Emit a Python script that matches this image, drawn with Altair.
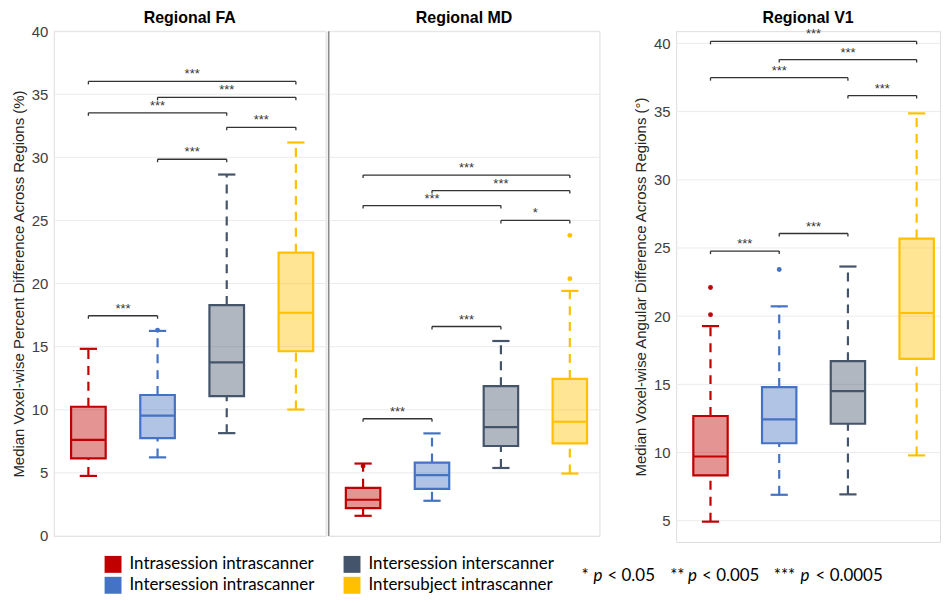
import altair as alt
import pandas as pd

# ---------------- data ----------------
groups = ["Intrasession intrascanner", "Intersession intrascanner",
          "Intersession interscanner", "Intersubject intrascanner"]
colors = ["#C00000", "#4472C4", "#44546A", "#FFC000"]
positions = [1, 2, 3, 4]

# Regional FA
fa_low = [4.76, 6.23, 8.15, 10.02]
fa_q1 = [6.15, 7.75, 11.09, 14.64]
fa_med = [7.62, 9.54, 13.76, 17.69]
fa_q3 = [10.24, 11.17, 18.30, 22.45]
fa_high = [14.83, 16.25, 28.64, 31.18]
fa_out_group = [2]
fa_out_value = [16.3]
fa_sig_from = [1, 2, 3, 1, 2, 1]
fa_sig_to = [2, 3, 4, 3, 4, 4]
fa_sig_y = [17.45, 29.85, 32.38, 33.53, 34.76, 36.02]
fa_sig_text = ["***", "***", "***", "***", "***", "***"]

# Regional MD
md_low = [1.60, 2.79, 5.39, 4.95]
md_q1 = [2.21, 3.74, 7.13, 7.34]
md_med = [2.87, 4.82, 8.63, 9.05]
md_q3 = [3.82, 5.82, 11.87, 12.45]
md_high = [5.74, 8.13, 15.45, 19.42]
md_out_group = [1, 4, 4]
md_out_value = [5.55, 23.82, 20.39]
md_sig_from = [1, 2, 3, 1, 2, 1]
md_sig_to = [2, 3, 4, 3, 4, 4]
md_sig_y = [9.29, 16.60, 25.00, 26.18, 27.37, 28.60]
md_sig_text = ["***", "***", "*", "***", "***", "***"]

# Regional V1
v1_low = [4.93, 6.90, 6.93, 9.79]
v1_q1 = [8.33, 10.68, 12.11, 16.87]
v1_med = [9.71, 12.43, 14.50, 20.23]
v1_q3 = [12.68, 14.80, 16.70, 25.69]
v1_high = [19.27, 20.72, 23.64, 34.87]
v1_out_group = [1, 1, 2]
v1_out_value = [22.10, 20.11, 23.42]
v1_sig_from = [1, 2, 3, 1, 2, 1]
v1_sig_to = [2, 3, 4, 3, 4, 4]
v1_sig_y = [24.77, 26.06, 36.18, 37.49, 38.82, 40.15]
v1_sig_text = ["***", "***", "***", "***", "***", "***"]

fa_ticks = [0, 5, 10, 15, 20, 25, 30, 35, 40]
v1_ticks = [5, 10, 15, 20, 25, 30, 35, 40]

key_stars = ["*", "**", "***"]
key_thresholds = ["< 0.05", "< 0.005", "< 0.0005"]

FONT = "Liberation Sans"
LEG_FONT = "Lato"
LW = 2.2

color_scale = alt.Scale(domain=groups, range=colors)


def panel(title, low, q1, med, q3, high, og, ov, sf, st, sy, stxt,
          ydom, yticks, ytitle, show_labels, xdom, w, h, divider=False):
    box = pd.DataFrame({"group": groups, "pos": positions, "low": low,
                        "q1": q1, "med": med, "q3": q3, "high": high})
    outl = pd.DataFrame({"group": [groups[g - 1] for g in og],
                         "pos": og, "value": ov})
    sig = pd.DataFrame({"a": sf, "b": st, "y": sy, "label": stxt})
    grid = pd.DataFrame({"t": yticks})

    xs = alt.Scale(domain=xdom, nice=False, zero=False)
    ys = alt.Scale(domain=ydom, nice=False, zero=False)
    if show_labels:
        yaxis = alt.Axis(values=yticks, title=ytitle, grid=False, ticks=False,
                         tickSize=0, domain=False, labelPadding=6,
                         labelFontSize=15, labelColor="#404040", labelFont=FONT,
                         titleFont=FONT, titleFontSize=15, titleFontWeight="normal",
                         titleColor="#262626", titlePadding=5)
    else:
        yaxis = None

    X = lambda f: alt.X(f, type="quantitative", scale=xs, axis=None)
    col = alt.Color("group:N", scale=color_scale, legend=None)

    gridl = alt.Chart(grid).mark_rule(color="#ebebeb", strokeWidth=1).encode(
        y=alt.Y("t:Q", scale=ys, axis=yaxis))

    base = alt.Chart(box).transform_calculate(
        boxL="datum.pos - 0.25", boxR="datum.pos + 0.25",
        capL="datum.pos - 0.125", capR="datum.pos + 0.125")

    w_up = base.mark_rule(strokeDash=[9, 7], strokeWidth=LW).encode(
        x=X("pos"), y=alt.Y("q3:Q", scale=ys), y2="high:Q", color=col)
    w_dn = base.mark_rule(strokeDash=[9, 7], strokeWidth=LW).encode(
        x=X("pos"), y=alt.Y("low:Q", scale=ys), y2="q1:Q", color=col)
    cap_hi = base.mark_rule(strokeWidth=LW).encode(
        x=X("capL"), x2="capR:Q", y=alt.Y("high:Q", scale=ys), color=col)
    cap_lo = base.mark_rule(strokeWidth=LW).encode(
        x=X("capL"), x2="capR:Q", y=alt.Y("low:Q", scale=ys), color=col)
    rect = base.mark_rect(fillOpacity=0.42, strokeWidth=LW).encode(
        x=X("boxL"), x2="boxR:Q", y=alt.Y("q1:Q", scale=ys), y2="q3:Q",
        fill=alt.Fill("group:N", scale=color_scale, legend=None),
        stroke=alt.Stroke("group:N", scale=color_scale, legend=None))
    med_l = base.mark_rule(strokeWidth=LW).encode(
        x=X("boxL"), x2="boxR:Q", y=alt.Y("med:Q", scale=ys), color=col)
    pts = alt.Chart(outl).mark_circle(size=24, opacity=1).encode(
        x=X("pos"), y=alt.Y("value:Q", scale=ys), color=col)

    sbase = alt.Chart(sig).transform_calculate(mid="(datum.a + datum.b) / 2")
    s_bar = sbase.mark_rule(color="#333333", strokeWidth=1.3).encode(
        x=X("a"), x2="b:Q", y=alt.Y("y:Q", scale=ys))
    s_ta = sbase.mark_rule(color="#333333", strokeWidth=1.3, y2Offset=3).encode(
        x=X("a"), y=alt.Y("y:Q", scale=ys), y2="y:Q")
    s_tb = sbase.mark_rule(color="#333333", strokeWidth=1.3, y2Offset=3).encode(
        x=X("b"), y=alt.Y("y:Q", scale=ys), y2="y:Q")
    s_txt = sbase.mark_text(dy=-7, fontSize=13, color="#333333", font=FONT).encode(
        x=X("mid"), y=alt.Y("y:Q", scale=ys), text="label:N")

    ttl = alt.Chart(pd.DataFrame({"t": [title]})).mark_text(
        font=FONT, fontSize=16, fontWeight="bold", color="#000000",
        align="center", baseline="middle").encode(
        text="t:N", x=alt.value(w / 2), y=alt.value(-13))

    layers = [gridl, w_up, w_dn, cap_hi, cap_lo, rect, med_l, pts,
              s_bar, s_ta, s_tb, s_txt, ttl]
    if divider:
        layers.append(alt.Chart(pd.DataFrame({"t": [0]})).mark_rule(
            color="#8a8a8a", strokeWidth=1.5).encode(
            x=alt.value(0), y=alt.value(0), y2=alt.value(h)))
    return alt.layer(*layers).properties(width=w, height=h)


fa = panel("Regional FA", fa_low, fa_q1, fa_med, fa_q3, fa_high, fa_out_group, fa_out_value,
           fa_sig_from, fa_sig_to, fa_sig_y, fa_sig_text, [0, 40], fa_ticks,
           "Median Voxel-wise Percent Difference Across Regions (%)", True,
           [0.5, 4.43], 273, 507)
md = panel("Regional MD", md_low, md_q1, md_med, md_q3, md_high, md_out_group, md_out_value,
           md_sig_from, md_sig_to, md_sig_y, md_sig_text, [0, 40], fa_ticks,
           None, False, [0.5, 4.43], 272, 507, divider=True)
v1 = panel("Regional V1", v1_low, v1_q1, v1_med, v1_q3, v1_high, v1_out_group, v1_out_value,
           v1_sig_from, v1_sig_to, v1_sig_y, v1_sig_text, [3.44, 40.9], v1_ticks,
           "Median Voxel-wise Angular Difference Across Regions (°)", True,
           [0.5, 4.34], 265, 513)

# ---------------- footer: legend + significance key ----------------
leg_df = pd.DataFrame({"group": groups})
leg_layer = alt.Chart(leg_df).transform_filter("false").mark_point(
    shape="square", filled=True, opacity=1).encode(
    color=alt.Color("group:N", scale=alt.Scale(domain=groups, range=colors),
                    legend=alt.Legend(orient="none", legendX=51, legendY=8, columns=2,
                                      title=None, symbolType="square", symbolSize=289,
                                      symbolStrokeWidth=0, symbolOpacity=1,
                                      labelFont=LEG_FONT, labelFontSize=17,
                                      labelColor="#000000", labelOffset=8,
                                      rowPadding=3, columnPadding=29, labelLimit=400)))

key_x_star = [530, 619, 723]
key_x_p = [542, 637, 750]
key_x_thr = [556, 651, 765]
key_layers = []
for i in range(3):
    for txt, px, style in [(key_stars[i], key_x_star[i], "normal"),
                           ("p", key_x_p[i], "italic"),
                           (key_thresholds[i], key_x_thr[i], "normal")]:
        key_layers.append(
            alt.Chart(pd.DataFrame({"t": [txt]})).mark_text(
                align="left", baseline="middle", fontSize=17, font=LEG_FONT,
                fontStyle=style, color="#000000").encode(
                text="t:N", x=alt.value(px), y=alt.value(28)))

footer = alt.layer(leg_layer, *key_layers).properties(
    width=860, height=34, view=alt.ViewBackground(stroke="transparent"))

top = alt.hconcat(alt.hconcat(fa, md, spacing=0), v1, spacing=32)
chart = alt.vconcat(top, footer, spacing=2).resolve_scale(color="independent").properties(
    padding={"left": 2, "top": 0, "right": 0, "bottom": 0}
).configure_view(stroke="#a0a0a0", strokeWidth=1.5).configure(background="white")

chart.save("out.html", embed_options={"renderer": "svg", "actions": False})
